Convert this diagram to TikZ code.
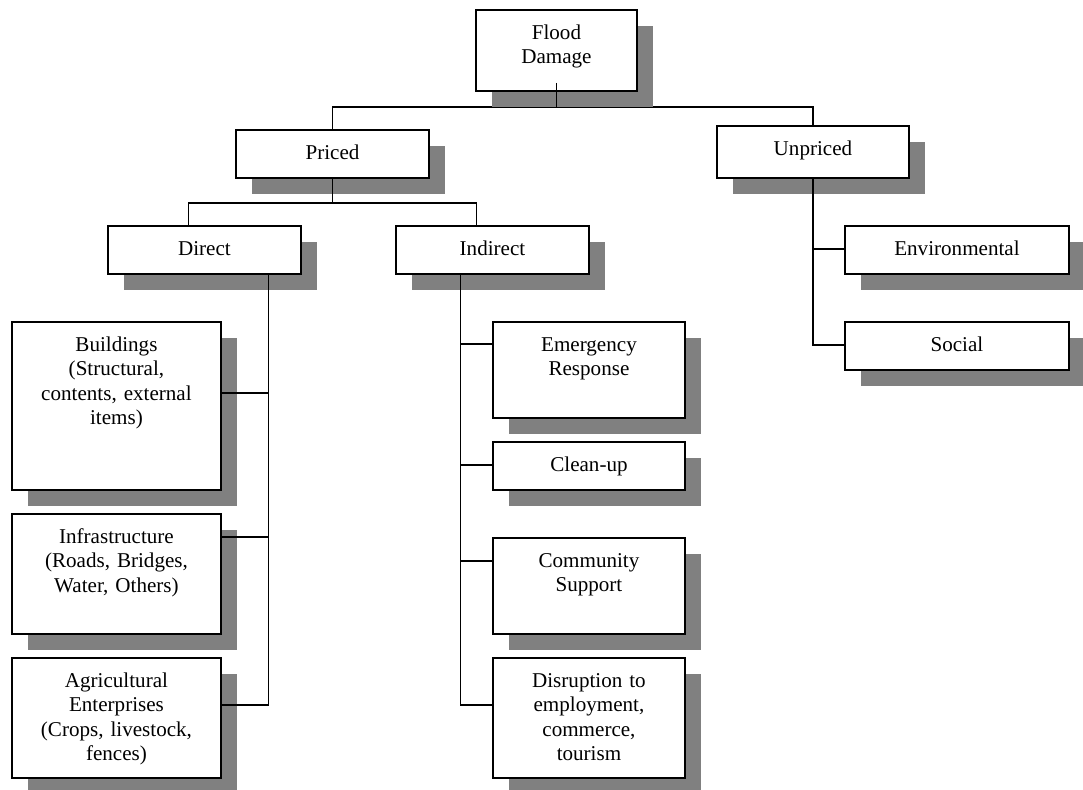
\documentclass[tikz,border=0pt]{standalone}
\usepackage{fontspec}
\setmainfont{Liberation Serif}
\usetikzlibrary{shadows, calc, backgrounds}

\tikzset{
    box/.style 2 args={draw, line width=1.1pt, fill=white, anchor=north west, inner sep=0pt,
        minimum width=#1*0.02cm, minimum height=#2*0.02cm,
        drop shadow={shadow xshift=0.32cm, shadow yshift=-0.32cm, fill=gray, opacity=1}},
    txt/.style={anchor=base, align=center, text width=#1*0.02cm, inner sep=0pt,
        font=\fontsize{12}{14}\selectfont},
    conn/.style={line width=0.85pt}
}

\begin{document}
\begin{tikzpicture}[x=0.02cm, y=-0.02cm]

        \useasboundingbox (0,0) rectangle (1083,789);

        % Các hộp
        \node[box={161}{81}] (flood) at (475,9) {};
        \node[box={193}{48}] (priced) at (235,129) {};
        \node[box={192}{52}] (unpriced) at (716,125) {};
        \node[box={193}{48}] (direct) at (107,225) {};
        \node[box={193}{48}] (indirect) at (395,225) {};
        \node[box={209}{168}] (build) at (11,321) {};
        \node[box={209}{120}] (infra) at (11,513) {};
        \node[box={209}{120}] (agri) at (11,657) {};
        \node[box={192}{96}] (emerg) at (492,321) {};
        \node[box={192}{48}] (clean) at (492,441) {};
        \node[box={192}{96}] (commun) at (492,537) {};
        \node[box={192}{120}] (disrupt) at (492,657) {};
        \node[box={224}{48}] (env) at (844,225) {};
        \node[box={224}{48}] (social) at (844,321) {};

        % Chữ trong hộp
        \node[txt=150] (flood-t) at ($(flood.north)+(0,30)$) {Flood\\Damage};
        \node[txt=180] (priced-t) at ($(priced.north)+(0,30)$) {Priced};
        \node[txt=180] (unpriced-t) at ($(unpriced.north)+(0,30)$) {Unpriced};
        \node[txt=180] (direct-t) at ($(direct.north)+(0,30)$) {Direct};
        \node[txt=180] (indirect-t) at ($(indirect.north)+(0,30)$) {Indirect};
        \node[txt=200] (build-t) at ($(build.north)+(0,30)$) {Buildings\\(Structural,\\contents, external\\items)};
        \node[txt=200] (infra-t) at ($(infra.north)+(0,30)$) {Infrastructure\\(Roads, Bridges,\\Water, Others)};
        \node[txt=200] (agri-t) at ($(agri.north)+(0,30)$) {Agricultural\\Enterprises\\(Crops, livestock,\\fences)};
        \node[txt=180] (emerg-t) at ($(emerg.north)+(0,30)$) {Emergency\\Response};
        \node[txt=180] (clean-t) at ($(clean.north)+(0,30)$) {Clean-up};
        \node[txt=180] (commun-t) at ($(commun.north)+(0,30)$) {Community\\Support};
        \node[txt=180] (disrupt-t) at ($(disrupt.north)+(0,30)$) {Disruption to\\employment,\\commerce,\\tourism};
        \node[txt=210] (env-t) at ($(env.north)+(0,30)$) {Environmental};
        \node[txt=210] (social-t) at ($(social.north)+(0,30)$) {Social};

        % Nhánh gốc (nằm dưới bóng)
        \begin{scope}[on background layer]
            \draw[conn] (priced.north) |- ($(flood.south)+(0,15)$) -| (unpriced.north);
        \end{scope}
        \draw[conn] ($(flood.south)+(0,-9)$) -- ($(flood.south)+(0,15)$);

        % Nhánh Priced
        \draw[conn] (priced.south) -- ++(0,24);
        \draw[conn] ($(direct.north)+(-16,0)$) |- ($(priced.south)+(0,24)$) -| ($(indirect.north)+(-16,0)$);

        % Nhánh Direct
        \coordinate (dtrunk) at ($(direct.south)+(64,0)$);
        \draw[conn] (dtrunk) |- ($(build.north east)+(0,72)$);
        \draw[conn] (dtrunk) |- ($(infra.north east)+(0,24)$);
        \draw[conn] (dtrunk) |- ($(agri.north east)+(0,48)$);

        % Nhánh Indirect
        \coordinate (itrunk) at ($(indirect.south)+(-32,0)$);
        \draw[conn] (itrunk) |- ($(emerg.north west)+(0,23)$);
        \draw[conn] (itrunk) |- ($(clean.north west)+(0,24)$);
        \draw[conn] (itrunk) |- ($(commun.north west)+(0,24)$);
        \draw[conn] (itrunk) |- ($(disrupt.north west)+(0,48)$);

        % Nhánh Unpriced
        \draw[conn] (unpriced.south) |- ($(env.north west)+(0,24)$);
        \draw[conn] (unpriced.south) |- ($(social.north west)+(0,24)$);

\end{tikzpicture}
\end{document}
